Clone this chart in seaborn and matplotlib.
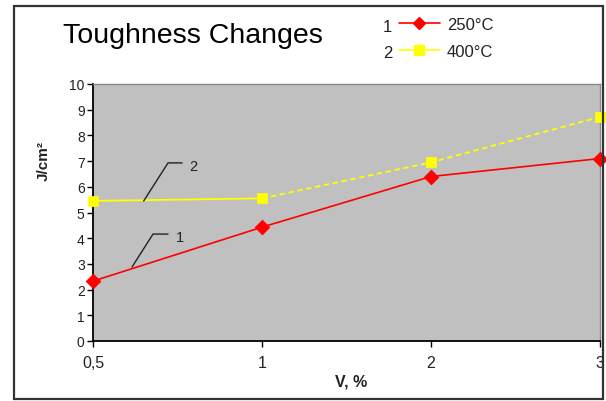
import matplotlib
matplotlib.use("Agg")
import matplotlib.pyplot as plt
import seaborn as sns
import pandas as pd
from matplotlib.lines import Line2D
from matplotlib.patches import Rectangle

categories = ["0,5", "1", "2", "3"]
s250 = [2.33, 4.43, 6.40, 7.10]
s400 = [5.45, 5.55, 6.95, 8.72]
yticks = list(range(0, 11))

sns.set_theme(style="white")
plt.rcParams['font.family'] = ['Liberation Sans', 'DejaVu Sans']

df = pd.DataFrame({"x": list(range(len(categories))), "s250": s250, "s400": s400})

fig = plt.figure(figsize=(6.06, 4.02), dpi=100)
ax = fig.add_axes([93/606, 1-342/402, (600-93)/606, (342-85)/402])
ax.set_facecolor("#C0C0C0")

# outer frame
fig.patches.append(Rectangle((14/606, 0.005), (603-14)/606, 1-7/402-0.005, transform=fig.transFigure,
                             fill=False, edgecolor="#333333", linewidth=1.6))

# 400 series: solid first segment, dashed rest
sns.lineplot(data=df.iloc[:2], x="x", y="s400", ax=ax, color="#FFFF00", linewidth=1.3)
sns.lineplot(data=df.iloc[1:], x="x", y="s400", ax=ax, color="#FFFF00", linewidth=1.3)
ax.lines[-1].set_dashes([3, 2])
sns.scatterplot(data=df, x="x", y="s400", ax=ax, marker="s", color="#FFFF00", s=45, edgecolor="#FFFF00",
                zorder=5, clip_on=False)
# 250 series
sns.lineplot(data=df, x="x", y="s250", ax=ax, color="#FF0000", linewidth=1.2)
sns.scatterplot(data=df, x="x", y="s250", ax=ax, marker="D", color="#FF0000", s=55, edgecolor="#FF0000",
                zorder=6, clip_on=False)

ax.set_xlim(0, len(categories) - 1)
ax.set_ylim(0, 10)
ax.set_xticks(range(len(categories)))
ax.set_xticklabels(categories)
ax.set_yticks(yticks)
ax.tick_params(axis="both", direction="out", length=4, width=1, color="black",
               bottom=True, left=True, labelcolor="#222222")
ax.tick_params(axis="x", labelsize=11.5, pad=6)
ax.tick_params(axis="y", labelsize=10, pad=2)
for s in ["left", "bottom"]:
    ax.spines[s].set_color("black")
    ax.spines[s].set_linewidth(1.3)
for s in ["top", "right"]:
    ax.spines[s].set_color("#8a8a8a")
    ax.spines[s].set_linewidth(1.0)

ax.set_xlabel("V, %", fontsize=11.5, fontweight="bold", color="#222222")
ax.xaxis.set_label_coords((351-93)/(600-93), -(382-342)/(342-85))
ax.xaxis.label.set_va("center")
ax.set_ylabel("J/cm²", fontsize=11, fontweight="bold", color="#222222")
ax.yaxis.set_label_coords(-(93-44)/(600-93), (342-161)/(342-85))
ax.yaxis.label.set_va("center")

# leader lines
ax.plot([0.30, 0.444, 0.527], [5.45, 6.93, 6.93], color="#222222", linewidth=1)
ax.text(0.568, 6.81, "2", fontsize=10.5, va="center", ha="left", color="#222222")
ax.plot([0.231, 0.355, 0.444], [2.88, 4.16, 4.16], color="#222222", linewidth=1)
ax.text(0.491, 4.05, "1", fontsize=10.5, va="center", ha="left", color="#222222")

# title
fig.text(63/606, 1-43/402, "Toughness Changes", fontsize=20.5, va="baseline", ha="left", color="black")

# legend
handles = [Line2D([], [], color="#FF0000", marker="D", markersize=6, linewidth=1.2),
           Line2D([], [], color="#FFFF00", marker="s", markersize=6.5, linewidth=1.2)]
leg = fig.legend(handles, ["250°C", "400°C"], loc="upper left", bbox_to_anchor=(399/606, 1-18/402),
                 frameon=False, fontsize=12, handlelength=2.45, handletextpad=0.42, labelspacing=0.72,
                 borderpad=0, borderaxespad=0)
for t in leg.get_texts():
    t.set_color("#222222")
fig.text(383/606, 1-27/402, "1", fontsize=12, va="center", ha="left", color="#222222")
fig.text(383/606, 1-54/402, "2", fontsize=12, va="center", ha="left", color="#222222")

fig.savefig("out.png", dpi=100)
